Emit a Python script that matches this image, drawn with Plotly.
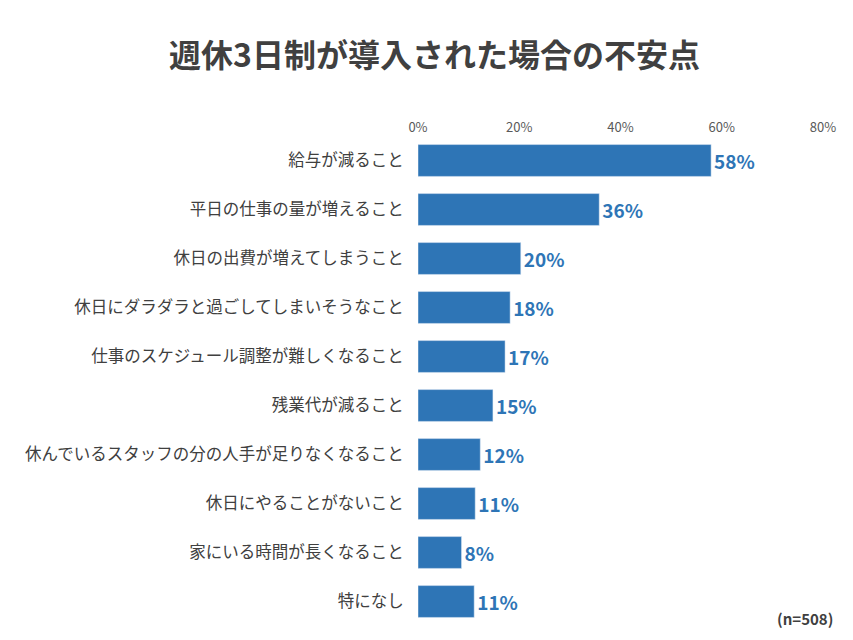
import plotly.graph_objects as go

categories = ['給与が減ること', '平日の仕事の量が増えること', '休日の出費が増えてしまうこと',
              '休日にダラダラと過ごしてしまいそうなこと', '仕事のスケジュール調整が難しくなること',
              '残業代が減ること', '休んでいるスタッフの分の人手が足りなくなること',
              '休日にやることがないこと', '家にいる時間が長くなること', '特になし']
values = [57.9, 35.8, 20.3, 18.2, 17.2, 14.8, 12.3, 11.3, 8.6, 11.1]
value_labels = ['58%', '36%', '20%', '18%', '17%', '15%', '12%', '11%', '8%', '11%']
tick_vals = [0, 20, 40, 60, 80]
tick_text = ['0%', '20%', '40%', '60%', '80%']

font = 'Noto Sans CJK JP'

fig = go.Figure(go.Bar(
    x=values, y=categories, orientation='h',
    marker_color='#2e75b6',
    text=value_labels, textposition='outside', cliponaxis=False,
    textfont=dict(size=19, color='#2e75b6', family=font, weight='bold'),
))

fig.update_layout(
    width=853, height=640,
    paper_bgcolor='white', plot_bgcolor='white',
    margin=dict(l=410, r=38, t=128, b=22, autoexpand=False),
    bargap=0.35,
    showlegend=False,
    font=dict(family=font, color='#404040'),
    title=dict(text='<b>週休3日制が導入された場合の不安点</b>', x=0.5, xanchor='center',
               y=0.925, yanchor='middle', font=dict(size=32, color='#404040')),
)
fig.update_xaxes(range=[0, 80], tickvals=tick_vals, ticktext=tick_text, side='top',
                 showgrid=False, zeroline=False, showline=False,
                 tickfont=dict(size=13, color='#595959'))
fig.update_yaxes(autorange='reversed', showline=False, ticks='outside', ticklen=10,
                 tickcolor='rgba(0,0,0,0)',
                 tickfont=dict(size=16.5, color='#404040'))

fig.add_annotation(text='<b>(n=508)</b>', xref='paper', yref='paper', x=1.03, y=-0.01,
                   xanchor='right', yanchor='bottom', showarrow=False,
                   font=dict(size=15, color='#404040'))

fig.write_html('out.html')
